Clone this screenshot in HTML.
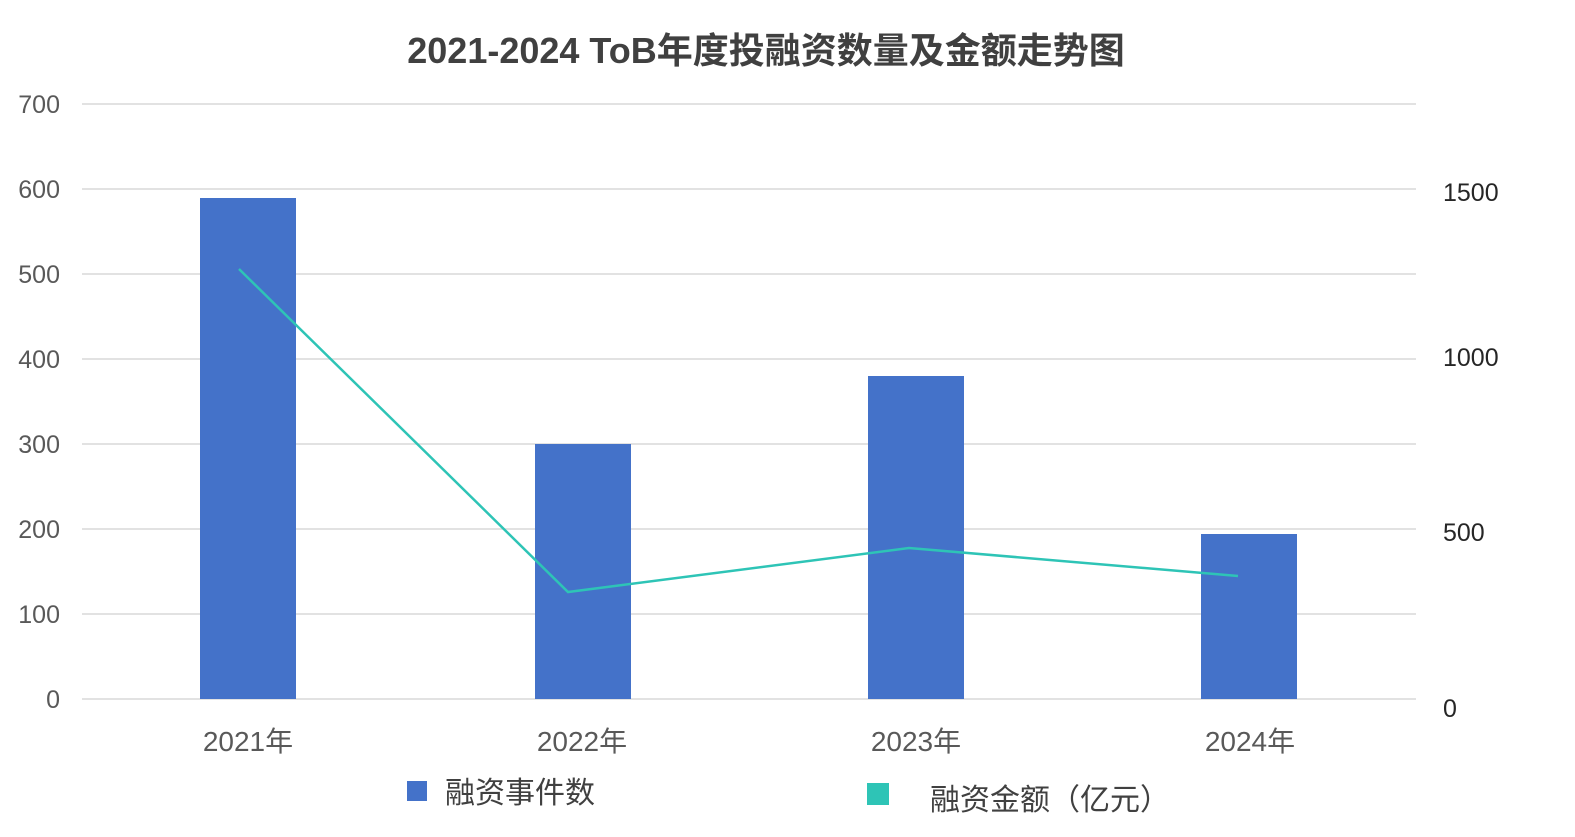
<!DOCTYPE html>
<html><head><meta charset="utf-8"><style>
body{margin:0;background:#fff}
svg text{font-family:"Liberation Sans","Noto Sans CJK SC",sans-serif}
</style></head><body>
<svg width="1575" height="832" viewBox="0 0 1575 832" xmlns="http://www.w3.org/2000/svg">
<rect width="1575" height="832" fill="#fff"/>
<text x="766" y="63" text-anchor="middle" font-size="36" font-weight="bold" fill="#404040">2021-2024 ToB年度投融资数量及金额走势图</text>
<g stroke="#d9d9d9" stroke-width="1.5">
<line x1="82" x2="1416" y1="104" y2="104"/><line x1="82" x2="1416" y1="189" y2="189"/>
<line x1="82" x2="1416" y1="274" y2="274"/><line x1="82" x2="1416" y1="359" y2="359"/>
<line x1="82" x2="1416" y1="444" y2="444"/><line x1="82" x2="1416" y1="529" y2="529"/>
<line x1="82" x2="1416" y1="614" y2="614"/><line x1="82" x2="1416" y1="699" y2="699"/>
</g>
<g font-size="25" fill="#595959" text-anchor="end">
<text x="60" y="113">700</text><text x="60" y="198">600</text><text x="60" y="283">500</text>
<text x="60" y="368">400</text><text x="60" y="453">300</text><text x="60" y="538">200</text>
<text x="60" y="623">100</text><text x="60" y="708">0</text>
</g>
<g font-size="25" fill="#262626" text-anchor="start">
<text x="1443" y="201">1500</text><text x="1443" y="366">1000</text>
<text x="1443" y="541">500</text><text x="1443" y="717">0</text>
</g>
<g fill="#4472c9">
<rect x="200" y="198" width="96" height="501"/>
<rect x="535" y="444" width="96" height="255"/>
<rect x="868" y="376" width="96" height="323"/>
<rect x="1201" y="534" width="96" height="165"/>
</g>
<polyline points="239,269 568,592 909,548 1238,576" fill="none" stroke="#2ec4b6" stroke-width="2.5"/>
<g font-size="28" fill="#595959" text-anchor="middle">
<text x="248" y="751">2021年</text><text x="582" y="751">2022年</text>
<text x="916" y="751">2023年</text><text x="1250" y="751">2024年</text>
</g>
<rect x="407" y="781" width="20" height="20" fill="#4472c9"/>
<text x="445" y="803" font-size="30" fill="#404040">融资事件数</text>
<rect x="867" y="783" width="22" height="22" fill="#2ec4b6"/>
<text x="930" y="810" font-size="30" fill="#404040">融资金额（亿元）</text>
</svg>
</body></html>
